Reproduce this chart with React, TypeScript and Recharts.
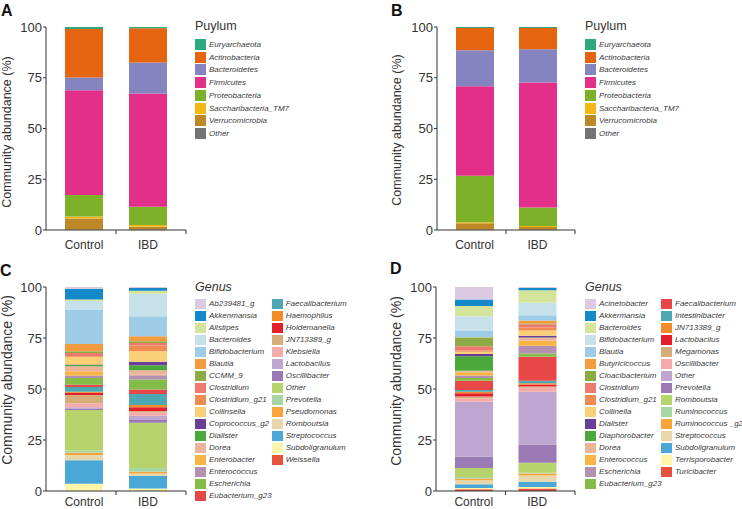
import React from "react";
import { BarChart, Bar, XAxis, YAxis } from "recharts";

const FONT = "'Liberation Sans', Arial, Helvetica, sans-serif";
const INK = "#333333";

const groups = ["Control", "IBD"];
const yTicks = [0, 25, 50, 75, 100];

// phylum level, listed top of stack -> bottom (same as legend)
const phyla = ["Euryarchaeota", "Actinobacteria", "Bacteroidetes", "Firmicutes", "Proteobacteria", "Saccharibacteria_TM7", "Verrucomicrobia", "Other"];
const phylumColors = ["#2EA97E", "#E4640F", "#8584C0", "#E32F8A", "#7DB12A", "#F2B817", "#BF8826", "#737373"];
const phylumA_control = [1.0, 23.9, 6.2, 51.7, 10.6, 0.9, 5.4, 0.3];
const phylumA_ibd = [0.6, 16.9, 15.3, 55.7, 9.0, 0.9, 1.4, 0.2];
const phylumB_control = [0.5, 11.0, 17.7, 44.1, 22.9, 0.5, 3.0, 0.3];
const phylumB_ibd = [0.5, 10.5, 16.4, 61.5, 9.1, 0.5, 1.2, 0.3];

// genus level
const genusColors = [
    "#DCCAE2", "#1489CA", "#D5E49B", "#C7E1EB", "#9ECCE6", "#F29B3F", "#8CAB44", "#EE7B6F",
    "#F08C50", "#F9D077", "#6B3F96", "#4BA93B", "#ECB49A", "#F8B444", "#B490B1", "#83BD47",
    "#E84747", "#4EA8B4", "#F28B28", "#E41E2C", "#D5AD79", "#F4ABA9", "#BEA6D0", "#9A79B4",
    "#B6D46B", "#A7D5A4", "#F6A43B", "#E8D7AB", "#4CA7D9", "#FDF5A8", "#E8513C",
];
const generaC = [
    "Ab239481_g", "Akkenmansia", "Alistipes", "Bacteroides", "Bifidobacterium", "Blautia", "CCMM_9", "Clostridium",
    "Clostridium_g21", "Collinsella", "Coprococcus_g2", "Dialister", "Dorea", "Enterobacter", "Enterococcus", "Escherichia",
    "Eubacterium_g23", "Faecalibacterium", "Haemophilus", "Holdemanella", "JN713389_g", "Klebsiella", "Lactobacilus", "Oscillibacter",
    "Other", "Prevotella", "Pseudomonas", "Romboutsia", "Streptococcus", "Subdoligranulum", "Weissella",
];
const genusC_control = [0.8, 5.3, 0.8, 4.1, 16.9, 3.6, 0.8, 1.6, 0.4, 3.7, 0.2, 0.7, 2.4, 2.1, 1.2, 3.3, 1.1, 2.3, 0.5, 1.1, 4.1, 2.0, 0.6, 0.7, 20.0, 1.0, 1.1, 2.5, 11.5, 3.6, 0];
const genusC_ibd = [0.5, 1.3, 1.5, 11.0, 9.8, 2.5, 0.8, 1.3, 2.8, 5.2, 1.7, 2.4, 2.2, 0.3, 2.1, 4.9, 2.1, 5.4, 1.2, 1.8, 0.6, 1.7, 2.1, 1.3, 22.2, 1.9, 0.8, 1.2, 6.2, 1.2, 0];

const generaD = [
    "Acinetobacter", "Akkermansia", "Bacteroides", "Bifidobacterium", "Blautia", "Butyricicoccus", "Cloacibacterium", "Clostridium",
    "Clostridium_g21", "Collinella", "Dialister", "Diaphorobacter", "Dorea", "Enterococcus", "Escherichia", "Eubacterium_g23",
    "Faecalibacterium", "Intestinibacter", "JN713389_g", "Lactobacilus", "Megamonas", "Oscillibacter", "Other", "Prevotella",
    "Romboutsia", "Ruminococcus", "Ruminococcus _g2", "Streptococcus", "Subdoligranulum", "Terrisporobacter", "Turicibacter",
];
const genusD_control = [6.1, 3.2, 5.0, 7.3, 3.0, 0.2, 4.2, 2.1, 0.7, 1.0, 1.1, 7.1, 0.8, 1.6, 1.2, 1.3, 4.6, 0.8, 0.8, 1.6, 0.9, 1.6, 27.0, 5.5, 4.4, 0.8, 0.8, 2.0, 1.8, 0.6, 0.9];
const genusD_ibd = [0.5, 1.1, 6.1, 6.1, 2.6, 1.5, 0.3, 1.6, 1.5, 2.6, 0.8, 0.2, 1.4, 2.5, 3.8, 1.6, 11.8, 1.2, 0.6, 1.0, 0.6, 2.0, 25.8, 9.0, 4.9, 0.3, 1.0, 3.1, 2.5, 0.8, 1.2];

const makeRows = (keys: string[], series: number[][]) =>
    groups.map((g, gi) => {
        const row: Record<string, any> = { name: g };
        keys.forEach((k, i) => { row[k] = series[gi][i]; });
        return row;
    });

// category tick: label in the middle, small tick mark on the category boundary
const CatTick = (props: any) => {
    const { x, y, payload, index, pad, band, gap } = props;
    const bx = index === 0 ? x + band / 2 : x + band / 2 + pad;
    const ay = y - gap;
    return (
        <g>
            <line x1={bx} x2={bx} y1={ay} y2={ay + 4} stroke={INK} />
            <text x={x} y={y} dy="0.71em" textAnchor="middle" fontSize={12} fill={INK} fontFamily={FONT}>
                {payload.value}
            </text>
        </g>
    );
};

interface PanelProps {
    left: number;
    top: number;
    width: number;
    marginTop: number;
    labelGap: number;
    keys: string[];
    colors: string[];
    series: number[][];
}

const StackPanel: React.FC<PanelProps> = ({ left, top, width, marginTop, labelGap, keys, colors, series }) => {
    const pad = 6;
    const band = (width - 4 - 46 - 2 * pad) / 2;
    const rows = makeRows(keys, series);
    const order = keys.map((k, i) => i).reverse(); // bottom of stack first
    return (
        <div style={{ position: "absolute", left, top }}>
            <BarChart width={width} height={262} data={rows} margin={{ top: marginTop, right: 4, left: 0, bottom: 12 }}>
                <XAxis
                    dataKey="name"
                    height={20}
                    padding={{ left: pad, right: pad }}
                    interval={0}
                    tickLine={false}
                    tickSize={4}
                    tickMargin={labelGap - 4}
                    axisLine={{ stroke: INK }}
                    tick={<CatTick pad={pad} band={band} gap={labelGap} />}
                />
                <YAxis
                    type="number"
                    domain={[0, 100]}
                    ticks={yTicks}
                    width={46}
                    tickSize={3}
                    tickMargin={1}
                    axisLine={{ stroke: INK }}
                    tickLine={{ stroke: INK }}
                    tick={{ fontSize: 13, fill: INK, fontFamily: FONT }}
                />
                {order.map(i => (
                    <Bar key={keys[i]} dataKey={keys[i]} stackId="s" fill={colors[i]} barSize={38} isAnimationActive={false} />
                ))}
            </BarChart>
        </div>
    );
};

const YLabel = ({ cx, cy, size }: { cx: number; cy: number; size: number }) => (
    <div
        style={{
            position: "absolute", left: cx, top: cy, transform: "translate(-50%, -50%) rotate(-90deg)",
            whiteSpace: "nowrap", fontSize: size, lineHeight: 1, color: INK, fontFamily: FONT,
        }}
    >
        Community abundance (%)
    </div>
);

const PanelLetter = ({ x, y, t }: { x: number; y: number; t: string }) => (
    <div style={{ position: "absolute", left: x, top: y, fontSize: 16, lineHeight: "18px", fontWeight: "bold", color: "#111", fontFamily: FONT }}>
        {t}
    </div>
);

interface LegendProps {
    left: number;
    titleTop: number;
    firstTop: number;
    title: string;
    italicTitle?: boolean;
    names: string[];
    colors: string[];
    rowH: number;
    swH: number;
    perCol: number;
    colGap: number;
}

const LegendBlock: React.FC<LegendProps> = ({ left, titleTop, firstTop, title, italicTitle, names, colors, rowH, swH, perCol, colGap }) => (
    <>
        <div style={{ position: "absolute", left, top: titleTop, fontSize: 12.5, lineHeight: "14px", fontStyle: italicTitle ? "italic" : "normal", color: INK, fontFamily: FONT }}>
            {title}
        </div>
        {names.map((n, i) => {
            const col = Math.floor(i / perCol);
            const row = i % perCol;
            return (
                <div key={n} style={{ position: "absolute", left: left + col * colGap, top: firstTop + row * rowH, height: swH }}>
                    <div style={{ position: "absolute", left: 0, top: 0, width: 11, height: swH, background: colors[i] }} />
                    <div style={{ position: "absolute", left: 14, top: 0, lineHeight: swH + "px", fontSize: 8, fontStyle: "italic", whiteSpace: "nowrap", color: "#3a3a3a", fontFamily: FONT }}>
                        {n}
                    </div>
                </div>
            );
        })}
    </>
);

export default function App() {
    return (
        <div style={{ position: "absolute", left: 0, top: 0, width: 742, height: 509, background: "#fff", overflow: "hidden", fontFamily: FONT }}>
            <PanelLetter x={1} y={2} t="A" />
            <PanelLetter x={391} y={2} t="B" />
            <PanelLetter x={0} y={262} t="C" />
            <PanelLetter x={390} y={260} t="D" />

            <YLabel cx={7} cy={132} size={12.5} />
            <YLabel cx={397} cy={130} size={12.5} />
            <YLabel cx={7} cy={380} size={14} />
            <YLabel cx={396} cy={381} size={14} />

            <StackPanel left={0} top={0} width={190} marginTop={27} labelGap={10} keys={phyla} colors={phylumColors} series={[phylumA_control, phylumA_ibd]} />
            <StackPanel left={391} top={0} width={188} marginTop={27} labelGap={10} keys={phyla} colors={phylumColors} series={[phylumB_control, phylumB_ibd]} />
            <StackPanel left={0} top={261} width={190} marginTop={26} labelGap={6} keys={generaC} colors={genusColors} series={[genusC_control, genusC_ibd]} />
            <StackPanel left={390} top={261} width={189} marginTop={26} labelGap={6} keys={generaD} colors={genusColors} series={[genusD_control, genusD_ibd]} />

            <LegendBlock left={195} titleTop={19} firstTop={39} title="Puylum" names={phyla} colors={phylumColors} rowH={12.7} swH={11} perCol={8} colGap={0} />
            <LegendBlock left={585} titleTop={19} firstTop={39} title="Puylum" names={phyla} colors={phylumColors} rowH={12.7} swH={11} perCol={8} colGap={0} />
            <LegendBlock left={195} titleTop={280} firstTop={299} title="Genus" italicTitle names={generaC} colors={genusColors} rowH={12} swH={10} perCol={17} colGap={76.7} />
            <LegendBlock left={585} titleTop={280} firstTop={299} title="Genus" italicTitle names={generaD} colors={genusColors} rowH={12} swH={10} perCol={16} colGap={76} />
        </div>
    );
}
